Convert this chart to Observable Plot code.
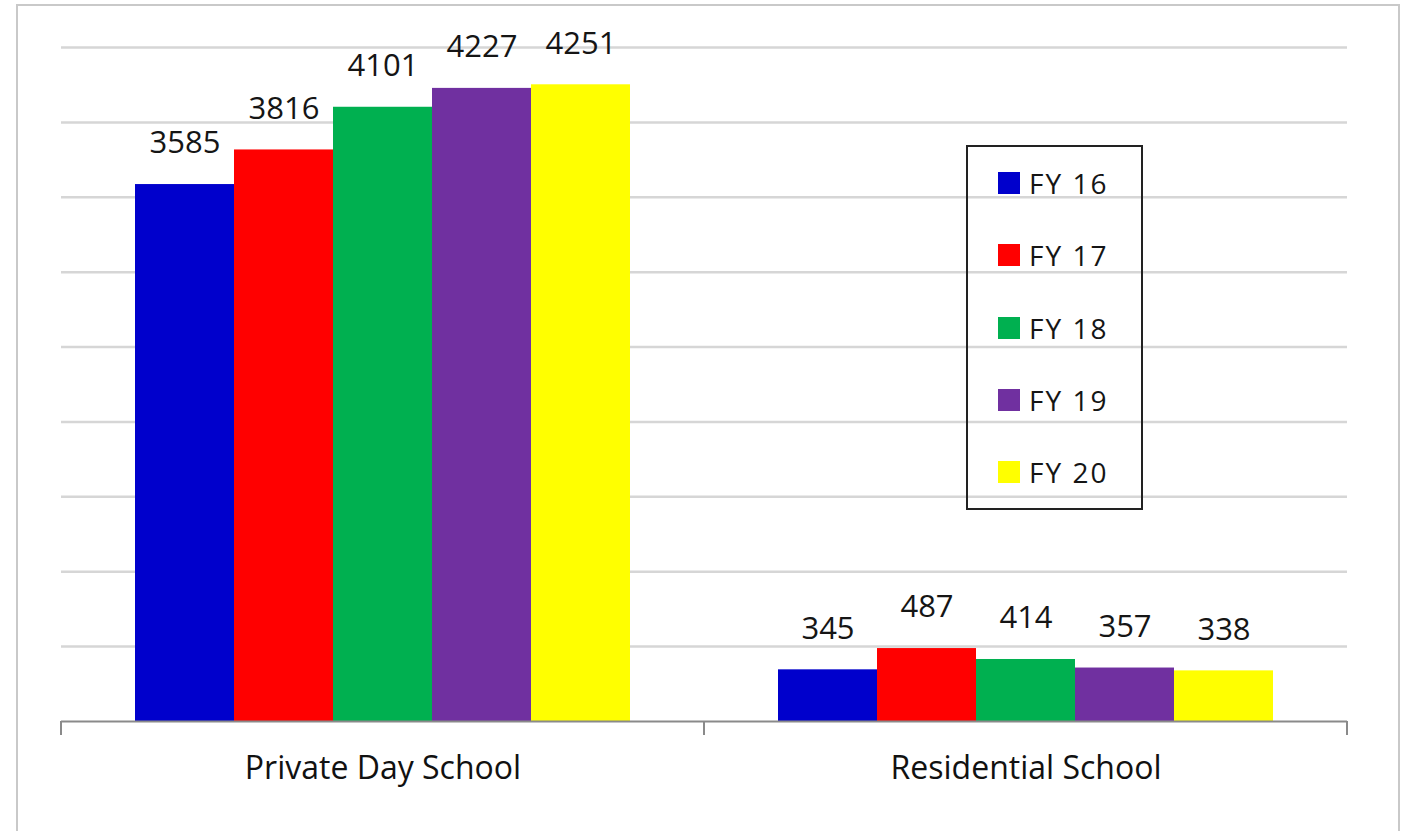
<!DOCTYPE html>
<html>
<head>
<meta charset="utf-8">
<script src="https://cdn.jsdelivr.net/npm/d3@7"></script>
<script src="https://cdn.jsdelivr.net/npm/@observablehq/plot@0.6"></script>
<style>
  html, body { margin: 0; padding: 0; background: #fff; overflow: hidden; }
  #wrap { position: relative; width: 1412px; height: 831px; font-family: "Open Sans", sans-serif; }
  #border { position: absolute; left: 16px; top: 4px; width: 1384px; height: 900px; border: 2px solid #c9c9c9; box-sizing: border-box; }
  #chart { position: absolute; left: 0; top: 0; }
  #legend { position: absolute; left: 966px; top: 145px; width: 177px; height: 365px; border: 2px solid #222; box-sizing: border-box; display: flex; flex-direction: column; }
  .item { flex: 1; display: flex; align-items: center; padding-left: 30px; font-size: 28px; letter-spacing: 2px; color: #151515; }
  .sw { width: 22px; height: 22px; margin-right: 9px; flex: none; }
</style>
</head>
<body>
<div id="wrap">
  <div id="border"></div>
  <div id="chart"></div>
  <div id="legend"></div>
</div>
<script>
const categories = ["Private Day School", "Residential School"];
const years = ["FY 16", "FY 17", "FY 18", "FY 19", "FY 20"];
const colors = ["#0000CC", "#FF0000", "#00B050", "#7030A0", "#FFFF00"];
const privateDay = [3585, 3816, 4101, 4227, 4251];
const residential = [345, 487, 414, 357, 338];
const gridValues = [500, 1000, 1500, 2000, 2500, 3000, 3500, 4000, 4500];

const series = [privateDay, residential];
const data = categories.flatMap((c, i) =>
  years.map((y, j) => ({category: c, year: y, value: series[i][j]}))
);

function boundaryTicks(index, scales, values, dim) {
  const g = d3.create("svg:g");
  const y0 = dim.height - dim.marginBottom;
  for (const x of [dim.marginLeft, dim.width - dim.marginRight]) {
    g.append("line")
      .attr("x1", x).attr("x2", x)
      .attr("y1", y0).attr("y2", y0 + 14)
      .attr("stroke", "#8a8a8a").attr("stroke-width", 2);
  }
  return g.node();
}

const chart = Plot.plot({
  width: 1412,
  height: 831,
  marginLeft: 60,
  marginRight: 65,
  marginTop: 47,
  marginBottom: 110,
  style: {background: "transparent", fontFamily: "Open Sans, sans-serif"},
  fx: {domain: categories, padding: 0, axis: null},
  x: {domain: years, paddingInner: 0, paddingOuter: 0.74, axis: null},
  y: {domain: [0, 4500], axis: null},
  color: {domain: years, range: colors},
  marks: [
    Plot.ruleY(gridValues, {stroke: "#d6d6d6", strokeWidth: 2.5}),
    Plot.barY(data, {fx: "category", x: "year", y: "value", fill: "year"}),
    Plot.ruleY([0], {stroke: "#8a8a8a", strokeWidth: 2}),
    boundaryTicks,
    Plot.text(data, {fx: "category", x: "year", y: "value", text: d => String(d.value), dy: -41, fontSize: 31, fill: "#151515"}),
    Plot.text(categories, {fx: d => d, text: d => d, frameAnchor: "bottom", dy: 57, fontSize: 32, fill: "#111"})
  ]
});
document.getElementById("chart").appendChild(chart);

const legend = document.getElementById("legend");
years.forEach((y, i) => {
  const item = document.createElement("div");
  item.className = "item";
  const sw = document.createElement("span");
  sw.className = "sw";
  sw.style.background = colors[i];
  item.appendChild(sw);
  item.appendChild(document.createTextNode(y));
  legend.appendChild(item);
});
</script>
</body>
</html>
